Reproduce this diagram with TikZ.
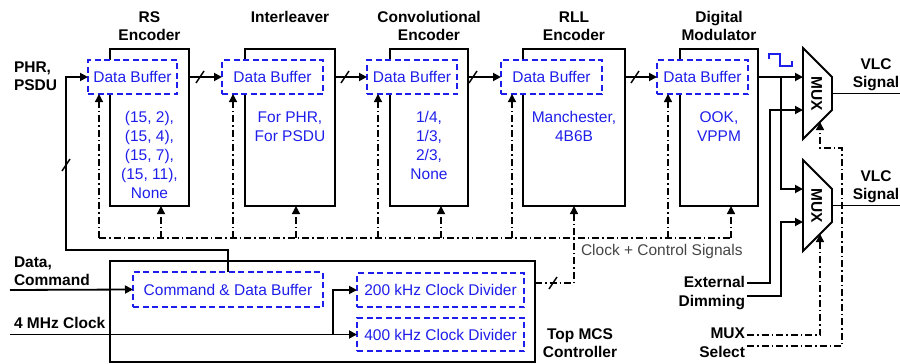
\documentclass[tikz,border=0pt]{standalone}
\usepackage{fontspec}
\setmainfont{Liberation Sans}
\usetikzlibrary{arrows.meta,calc}
\definecolor{dbblue}{RGB}{30,30,235}
\definecolor{siggray}{RGB}{70,70,70}

\begin{document}
\begin{tikzpicture}[x=1pt,y=-1pt,
  every node/.style={font=\fontsize{15.5}{19}\selectfont, inner sep=0pt, outer sep=0pt},
  unit/.style={draw, line width=1.8pt, minimum height=157pt},
  buf/.style={draw=dbblue, text=dbblue, dash pattern=on 6pt off 3.5pt, line width=1.6pt, fill=white, minimum height=34pt},
  title/.style={font=\fontsize{15.5}{18}\selectfont\bfseries, align=center, anchor=base},
  param/.style={text=dbblue, align=center, anchor=base},
  lbl/.style={font=\fontsize{15.5}{18}\selectfont\bfseries, align=left, anchor=base west},
  rlbl/.style={font=\fontsize{15.5}{18}\selectfont\bfseries, anchor=base east},
  wire/.style={line width=1.8pt},
  arr/.style={wire, -{Triangle[length=8pt,width=8pt]}},
  ctl/.style={line width=1.4pt, dash pattern=on 7pt off 3pt on 1.5pt off 3pt},
  ctlarr/.style={ctl, -{Triangle[length=8pt,width=8pt]}},
  tick/.style={line width=1.4pt},
]
\useasboundingbox (0,0) rectangle (900,364);

% processing units
\node[unit, minimum width=79pt]  (rs)  at (149.5,127.5) {};
\node[unit, minimum width=90pt]  (il)  at (290,127.5) {};
\node[unit, minimum width=78pt]  (cv)  at (429,127.5) {};
\node[unit, minimum width=102pt] (rll) at (574,127.5) {};
\node[unit, minimum width=78pt]  (dm)  at (719,127.5) {};

% input buffers
\node[buf, minimum width=89pt]  (rsb)  at (132.5,77) {Data Buffer};
\node[buf, minimum width=101pt] (ilb)  at (272.5,77) {Data Buffer};
\node[buf, minimum width=90pt]  (cvb)  at (412,77)   {Data Buffer};
\node[buf, minimum width=101pt] (rllb) at (551.5,77) {Data Buffer};
\node[buf, minimum width=91pt]  (dmb)  at (702.5,77) {Data Buffer};

% unit titles (base anchor = baseline of the last line)
\node[title] (rst)  at (149.5,40.5) {RS\\Encoder};
\node[title] (ilt)  at (290,22.5)   {Interleaver};
\node[title] (cvt)  at (429,40.5)   {Convolutional\\Encoder};
\node[title] (rllt) at (574,40.5)   {RLL\\Encoder};
\node[title] (dmt)  at (719,40.5)   {Digital\\Modulator};

% supported modes
\node[param] (rsp)  at (149.5,198.5) {(15, 2),\\(15, 4),\\(15, 7),\\(15, 11),\\None};
\node[param] (ilp)  at (290,141.5)   {For PHR,\\For PSDU};
\node[param] (cvp)  at (429,179.5)   {1/4,\\1/3,\\2/3,\\None};
\node[param] (rllp) at (574,141.5)   {Manchester,\\4B6B};
\node[param] (dmp)  at (719,141.5)   {OOK,\\VPPM};

% data path between units
\draw[arr] (rsb.east -| rs.east)   -- (ilb.west);
\draw[arr] (ilb.east -| il.east)   -- (cvb.west);
\draw[arr] (cvb.east -| cv.east)   -- (rllb.west);
\draw[arr] (rllb.east -| rll.east) -- (dmb.west);
\foreach \x in {200,345,473,635}
  \draw[tick, shift={(\x,77)}] (-4,6) -- (4,-6);

% top MCS controller
\node[draw, line width=1.8pt, minimum width=425pt, minimum height=101pt] (mcs) at (322.5,311.5) {};
\node[buf, minimum width=190pt, minimum height=35pt] (cmd)  at (228,289.5)   {Command \& Data Buffer};
\node[buf, minimum width=167pt, minimum height=34pt] (div2) at (440.5,290)   {200 kHz Clock Divider};
\node[buf, minimum width=167pt, minimum height=33pt] (div4) at (440.5,334.5) {400 kHz Clock Divider};
\node[title] (mcst) at (580,357.5) {Top MCS\\Controller};

% external inputs
\node[lbl] (phr) at (14,90.5)  {PHR,\\PSDU};
\node[lbl] (dc)  at (14,285.5) {Data,\\Command};
\node[lbl] (clk) at (14,328.5) {4 MHz Clock};
\coordinate (dcin)  at (10,290);
\coordinate (clkin) at (10,334.5);
\coordinate (clkbr) at (333,334.5);
\draw[arr] (dcin) -- (cmd.west);
\draw[arr] (clkin) -- (div4.west);
\draw[arr] (clkbr) |- (div2.west);

% frame data from the command buffer to the RS encoder
\coordinate (phrv) at (66,250);
\draw[arr] (cmd.north) |- (phrv) |- (rsb.west);
\draw[tick, shift={(66,165)}] (-4,6) -- (4,-6);

% clock and control distribution
\coordinate (ctlout) at (535,283);
\coordinate (busl) at (99,238);
\coordinate (busr) at (731,238);
\draw[ctl] (busl) -- (busr);
\draw[ctlarr] (ctlout) -| (rll.south);
\draw[tick, shift={(553,283)}] (-4,6) -- (4,-6);
\foreach \b in {rsb,ilb,cvb,rllb,dmb} {
  \coordinate (\b tap) at ($(\b.south west)+(11,0)$);
  \draw[ctlarr] (\b tap |- busl) -- (\b tap);
}
\foreach \u in {rs,il,cv,dm} {
  \coordinate (\u tap) at ($(\u.south west)+(51,0)$);
  \draw[ctlarr] (\u tap |- busl) -- (\u tap);
}
\node[text=siggray, anchor=base west] (ccs) at (581,255.5) {Clock + Control Signals};

% output multiplexers
\draw[dbblue, line width=1.3pt] (769,59) -- (769,54) -- (780,54) -- (780,66) -- (792,66) -- (792,61);
\coordinate (m1) at (803,48);
\coordinate (m2) at (803,160);
\foreach \m in {m1,m2} {
  \draw[wire] (\m) -- ++(29,29) -- ++(0,33) -- ++(-29,29) -- cycle;
  \coordinate (\m a) at ($(\m)+(0,29)$);
  \coordinate (\m b) at ($(\m)+(0,62)$);
  \coordinate (\m s) at ($(\m)+(17,74)$);
  \coordinate (\m o) at ($(\m)+(29,45.5)$);
  \node[font=\fontsize{15.5}{18}\selectfont\bfseries, rotate=-90] (\m t) at ($(\m)+(13.5,45.5)$) {MUX};
}
\coordinate (o1) at (900,93.5);
\coordinate (o2) at (900,205.5);
\draw[wire] (m1o) -- (o1);
\draw[wire] (m2o) -- (o2);
\node[title] (vlc1) at (876,87.5)  {VLC\\Signal};
\node[title] (vlc2) at (876,199.5) {VLC\\Signal};

\coordinate (dmbr) at (781,77);
\draw[arr] (dmb.east -| dm.east) -- (m1a);
\draw[arr] (dmbr) |- (m2a);

% dimming inputs
\node[rlbl] (ext) at (745,287.5) {External};
\node[rlbl] (dim) at (745,306.5) {Dimming};
\coordinate (extout) at (747,283);
\coordinate (dimout) at (747,296);
\coordinate (extv) at (770,110);
\coordinate (dimv) at (781,222);
\draw[arr] (extout) -| (extv) -- (m1b);
\draw[arr] (dimout) -| (dimv) -- (m2b);

% multiplexer select
\node[rlbl] (muxl) at (745,338.5) {MUX};
\node[rlbl] (sel)  at (745,357.5) {Select};
\coordinate (muxout) at (747,335);
\coordinate (selout) at (747,346);
\coordinate (selv) at (842,148);
\draw[ctlarr] (muxout) -| (m2s);
\draw[ctlarr] (selout) -| (selv) -| (m1s);
\end{tikzpicture}
\end{document}
